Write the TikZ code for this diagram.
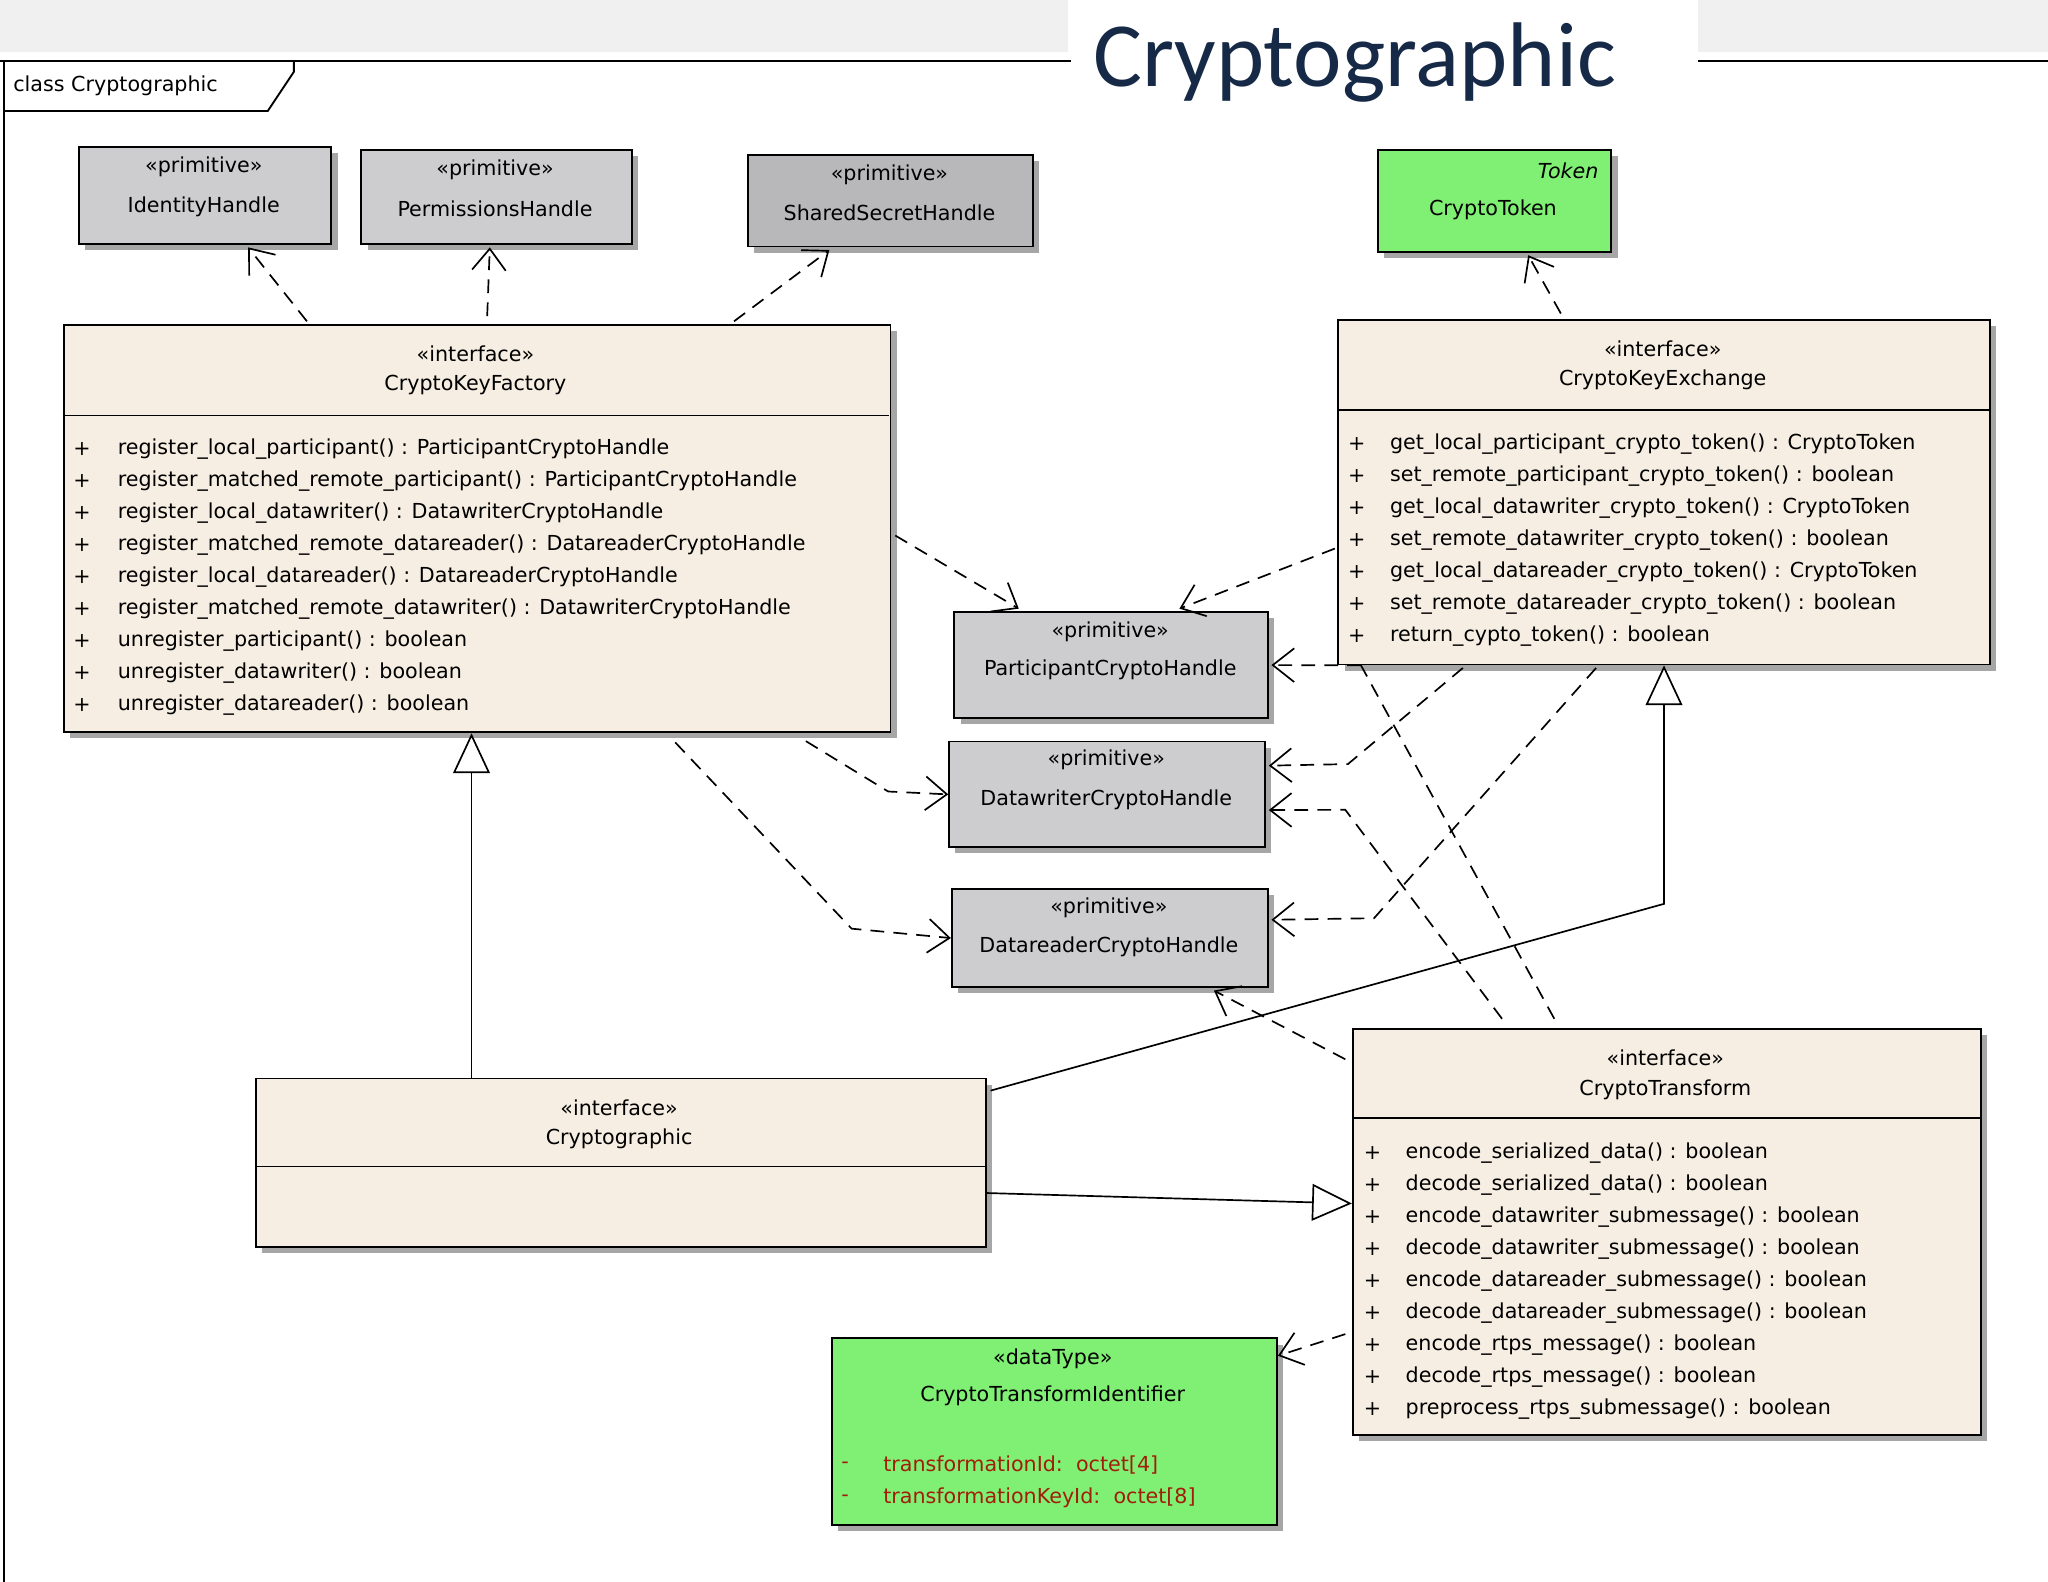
\documentclass[tikz,border=0pt]{standalone}
\usepackage{fontspec}
\setmainfont{DejaVu Sans}
\newfontfamily\titlefont{Carlito}
\usetikzlibrary{arrows.meta,shadows,calc}
\definecolor{clsfill}{RGB}{246,238,226}
\definecolor{primfill}{RGB}{205,205,207}
\definecolor{darkprim}{RGB}{184,184,186}
\definecolor{tokgreen}{RGB}{128,240,116}
\definecolor{titleblue}{RGB}{22,42,72}
\definecolor{attrred}{RGB}{160,30,10}
\tikzset{
  box/.style={draw, rectangle, anchor=north west, inner sep=0pt, line width=1.2pt,
    drop shadow={shadow xshift=4pt, shadow yshift=-4pt, fill=gray!70, opacity=1}},
  lbl/.style={font=\fontsize{13.5}{16}\selectfont, inner sep=0pt},
  mem/.style={lbl, anchor=west},
  dep/.style={dashed, line width=1.1pt, dash pattern=on 9pt off 6pt, -{Straight Barb[length=14pt,width=22pt,line width=1.1pt]}},
  plaindep/.style={line width=1.1pt, dash pattern=on 9pt off 6pt},
  gen/.style={line width=1.1pt, -{Triangle[open,length=26pt,width=24pt,fill=white]}}
}
\begin{document}
\begin{tikzpicture}[x=0.03cm,y=-0.03cm]
	\useasboundingbox (0,0) rectangle (1568,1211);
	\fill[gray!12] (0,0) rectangle (1568,40);
	\fill[white] (818,0) rectangle (1300,110);

	% frame
	\draw[line width=1.2pt] (0,47) -- (820,47);
	\draw[line width=1.2pt] (1300,47) -- (1568,47);
	\draw[line width=1.2pt] (3,47) -- (3,1211);
	\draw[line width=1.2pt] (3,85) -- (205,85) -- (225,55) -- (225,47);
	\node[lbl, anchor=west] (frame) at (10,66) {class Cryptographic};
	\node[font=\titlefont\fontsize{60}{62}\selectfont, text=titleblue, inner sep=0pt] (title) at (1037,48) {Cryptographic};

	% boxes
	\node[box, fill=primfill, minimum width=5.79cm, minimum height=2.22cm] (ih) at (60,112) {};
	\node[box, fill=primfill, minimum width=6.21cm, minimum height=2.16cm] (ph) at (276,114) {};
	\node[box, fill=darkprim, minimum width=6.54cm, minimum height=2.1cm] (ssh) at (572,118) {};
	\node[box, fill=tokgreen, minimum width=5.37cm, minimum height=2.34cm] (tok) at (1054,114) {};
	\node[box, fill=clsfill, minimum width=18.99cm, minimum height=9.36cm] (ckf) at (48,248) {};
	\node[box, fill=clsfill, minimum width=14.97cm, minimum height=7.92cm] (cke) at (1024,244) {};
	\node[box, fill=primfill, minimum width=7.2cm, minimum height=2.43cm] (pch) at (730,468) {};
	\node[box, fill=primfill, minimum width=7.26cm, minimum height=2.43cm] (dwch) at (726,567) {};
	\node[box, fill=primfill, minimum width=7.26cm, minimum height=2.25cm] (drch) at (728,680) {};
	\node[box, fill=clsfill, minimum width=16.77cm, minimum height=3.87cm] (cry) at (195,825) {};
	\node[box, fill=clsfill, minimum width=14.43cm, minimum height=9.33cm] (ct) at (1035,787) {};
	\node[box, fill=tokgreen, minimum width=10.23cm, minimum height=4.29cm] (cti) at (636,1024) {};

	% compartments
	\draw[line width=1.1pt] (48,318) -- (681,318);
	\draw[line width=1.1pt] (1024,314) -- (1523,314);
	\draw[line width=1.1pt] (195,893) -- (754,893);
	\draw[line width=1.1pt] (1035,856) -- (1516,856);

	% labels
	\node[lbl] (ihs) at (156,128) {«primitive»};
	\node[lbl] (ihn) at (156,158) {IdentityHandle};
	\node[lbl] (phs) at (379,130) {«primitive»};
	\node[lbl] (phn) at (379,160) {PermissionsHandle};
	\node[lbl] (sshs) at (681,134) {«primitive»};
	\node[lbl] (sshn) at (681,163) {SharedSecretHandle};
	\node[lbl, anchor=east, font=\fontsize{13.5}{16}\selectfont\itshape] (toks) at (1224,131) {Token};
	\node[lbl] (tokn) at (1143,161) {CryptoToken};
	\node[lbl] (ckfs) at (364,271) {«interface»};
	\node[lbl] (ckfn) at (364,295) {CryptoKeyFactory};
	\node[lbl] (ckes) at (1273,267) {«interface»};
	\node[lbl] (cken) at (1273,291) {CryptoKeyExchange};
	\node[lbl] (pchs) at (850,484) {«primitive»};
	\node[lbl] (pchn) at (850,513) {ParticipantCryptoHandle};
	\node[lbl] (dwchs) at (847,582) {«primitive»};
	\node[lbl] (dwchn) at (847,612) {DatawriterCryptoHandle};
	\node[lbl] (drchs) at (849,695) {«primitive»};
	\node[lbl] (drchn) at (849,725) {DatareaderCryptoHandle};
	\node[lbl] (crys) at (474,848) {«interface»};
	\node[lbl] (cryn) at (474,872) {Cryptographic};
	\node[lbl] (cts) at (1275,810) {«interface»};
	\node[lbl] (ctn) at (1275,834) {CryptoTransform};
	\node[lbl] (ctis) at (806,1040) {«dataType»};
	\node[lbl] (ctin) at (806,1069) {CryptoTransformIdentifier};

	% members
	\foreach \t [count=\i from 0] in {register\_local\_participant() : ParticipantCryptoHandle,
		register\_matched\_remote\_participant() : ParticipantCryptoHandle,
		register\_local\_datawriter() : DatawriterCryptoHandle,
		register\_matched\_remote\_datareader() : DatareaderCryptoHandle,
		register\_local\_datareader() : DatareaderCryptoHandle,
		register\_matched\_remote\_datawriter() : DatawriterCryptoHandle,
		unregister\_participant() : boolean,
		unregister\_datawriter() : boolean,
		unregister\_datareader() : boolean}
	{
		\node[mem] (ckfp\i) at (56,344+24.5*\i) {+};
		\node[mem] (ckfm\i) at (90,344+24.5*\i) {\t};
	}
	\foreach \t [count=\i from 0] in {get\_local\_participant\_crypto\_token() : CryptoToken,
		set\_remote\_participant\_crypto\_token() : boolean,
		get\_local\_datawriter\_crypto\_token() : CryptoToken,
		set\_remote\_datawriter\_crypto\_token() : boolean,
		get\_local\_datareader\_crypto\_token() : CryptoToken,
		set\_remote\_datareader\_crypto\_token() : boolean,
		return\_cypto\_token() : boolean}
	{
		\node[mem] (ckep\i) at (1032,340+24.5*\i) {+};
		\node[mem] (ckem\i) at (1064,340+24.5*\i) {\t};
	}
	\foreach \t [count=\i from 0] in {encode\_serialized\_data() : boolean,
		decode\_serialized\_data() : boolean,
		encode\_datawriter\_submessage() : boolean,
		decode\_datawriter\_submessage() : boolean,
		encode\_datareader\_submessage() : boolean,
		decode\_datareader\_submessage() : boolean,
		encode\_rtps\_message() : boolean,
		decode\_rtps\_message() : boolean,
		preprocess\_rtps\_submessage() : boolean}
	{
		\node[mem] (ctp\i) at (1044,883+24.5*\i) {+};
		\node[mem] (ctm\i) at (1076,883+24.5*\i) {\t};
	}
	\node[mem, text=attrred] (ctip0) at (644,1122) {-};
	\node[mem, text=attrred] (ctim0) at (676,1122) {transformationId:\ \ octet[4]};
	\node[mem, text=attrred] (ctip1) at (644,1147) {-};
	\node[mem, text=attrred] (ctim1) at (676,1147) {transformationKeyId:\ \ octet[8]};

	% dependencies
	\draw[dep] ($(ckf.north west)+(187,-2)$) -- ($(ih.south west)+(130,2)$);
	\draw[dep] ($(ckf.north west)+(325,-6)$) -- ($(ph.south west)+(99,2)$);
	\draw[dep] ($(ckf.north west)+(514,-2)$) -- ($(ssh.south west)+(63,2)$);
	\draw[dep] ($(cke.north west)+(171,-4)$) -- ($(tok.south west)+(116,2)$);
	\draw[dep] ($(ckf.north east)+(3,162)$) -- ($(pch.north west)+(50,-2)$);
	\draw[dep] ($(cke.north west)+(-2,176)$) -- ($(pch.north west)+(173,-2)$);
	\draw[dep] ($(cke.south west)+(18,0)$) -- ($(pch.east)+(2,0)$);
	\draw[dep] ($(ckf.south west)+(569,6)$) -- (680,606) -- (dwch.west);
	\draw[dep] ($(ckf.south west)+(469,7)$) -- (652,711) -- (drch.west);
	\draw[dep] ($(cke.south west)+(96,2)$) -- (1032,585) -- ($(dwch.east)+(2,-22)$);
	\draw[dep] ($(cke.south west)+(198,2)$) -- (1052,703) -- ($(drch.east)+(2,-14)$);
	\draw[dep] ($(ct.north west)+(115,-7)$) -- (1030,620) -- ($(dwch.east)+(2,12)$);
	\draw[plaindep] ($(ct.north west)+(155,-7)$) -- ($(cke.south west)+(18,0)$);
	\draw[dep] ($(ct.north west)+(-5,24)$) -- ($(drch.south east)+(-42,2)$);
	\draw[dep] ($(ct.south west)+(-5,-78)$) -- ($(cti.north east)+(0,14)$);

	% generalizations
	\draw[gen] ($(cry.north west)+(166,0)$) -- ($(ckf.south west)+(313,0)$);
	\draw[gen] ($(cry.north east)+(3,10)$) -- (1274,692) -- ($(cke.south west)+(250,0)$);
	\draw[gen] ($(cry.south east)+(0,-42)$) -- ($(ct.south west)+(0,-178)$);
\end{tikzpicture}
\end{document}
